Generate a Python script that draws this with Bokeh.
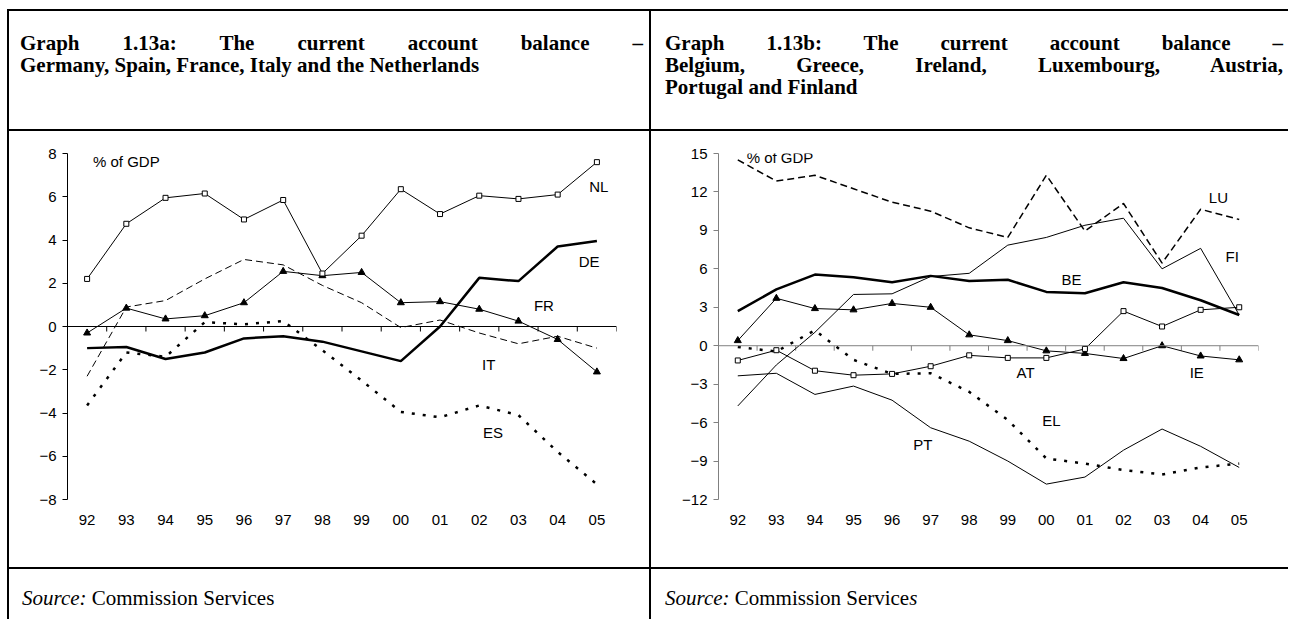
from bokeh.plotting import figure
from bokeh.models import Div, Range1d, FixedTicker, Span
from bokeh.layouts import row, column
from bokeh.embed import file_html
from bokeh.resources import INLINE
from bokeh.core.properties import value
import numpy as np

years = ["92", "93", "94", "95", "96", "97", "98", "99", "00", "01", "02", "03", "04", "05"]

# Graph 1.13a
NL = [2.2, 4.75, 5.95, 6.15, 4.95, 5.85, 2.45, 4.2, 6.35, 5.2, 6.05, 5.9, 6.1, 7.6]
DE = [-1.0, -0.95, -1.5, -1.2, -0.55, -0.45, -0.7, -1.15, -1.6, 0.0, 2.25, 2.1, 3.7, 3.95]
FR = [-0.3, 0.85, 0.35, 0.5, 1.1, 2.55, 2.35, 2.5, 1.1, 1.15, 0.8, 0.25, -0.6, -2.1]
IT = [-2.3, 0.9, 1.2, 2.2, 3.1, 2.85, 1.9, 1.1, -0.05, 0.3, -0.3, -0.8, -0.45, -1.0]
ES = [-3.65, -1.2, -1.4, 0.2, 0.1, 0.25, -1.1, -2.5, -3.95, -4.2, -3.65, -4.1, -5.8, -7.3]

# Graph 1.13b
LU = [14.5, 12.85, 13.3, 12.25, 11.2, 10.5, 9.2, 8.45, 13.3, 8.95, 11.1, 6.45, 10.65, 9.85]
BE = [2.7, 4.4, 5.55, 5.35, 4.95, 5.45, 5.05, 5.15, 4.2, 4.1, 4.95, 4.5, 3.55, 2.4]
FI = [-4.7, -1.5, 1.05, 4.0, 4.05, 5.4, 5.65, 7.85, 8.45, 9.4, 9.95, 6.0, 7.6, 2.4]
IE = [0.4, 3.7, 2.9, 2.8, 3.3, 3.0, 0.85, 0.4, -0.4, -0.6, -1.0, 0.0, -0.8, -1.1]
AT = [-1.15, -0.35, -1.95, -2.3, -2.2, -1.6, -0.75, -0.95, -0.95, -0.25, 2.7, 1.5, 2.8, 3.0]
EL = [-0.1, -0.45, 1.2, -1.1, -2.2, -2.15, -3.6, -5.8, -8.8, -9.2, -9.7, -10.05, -9.5, -9.2]
PT = [-2.35, -2.15, -3.8, -3.15, -4.25, -6.4, -7.45, -9.0, -10.8, -10.25, -8.15, -6.5, -7.85, -9.5]

unit_label = "% of GDP"
left_names = ["NL", "DE", "FR", "IT", "ES"]
right_names = ["LU", "FI", "BE", "AT", "IE", "EL", "PT"]

FONT = value("Liberation Sans")
LBL = "15px"
xs = list(range(len(years)))


def make_fig(width, ylo, yhi, ystep, mb_left, mb_right, axis_color):
    frame_h = 346
    p = figure(width=width, height=436, output_backend="svg", toolbar_location=None,
               x_range=Range1d(-0.5, len(years) - 0.5), y_range=Range1d(ylo, yhi),
               min_border_left=mb_left, min_border_right=mb_right,
               min_border_top=22, min_border_bottom=68,
               outline_line_color=None, background_fill_color="white",
               border_fill_color="white", margin=0)
    p.grid.visible = False
    # x axis: labels only (centred on categories)
    xa = p.xaxis[0]
    xa.ticker = FixedTicker(ticks=xs)
    xa.major_label_overrides = {i: y for i, y in enumerate(years)}
    xa.axis_line_color = None
    xa.major_tick_line_color = None
    xa.major_tick_out = 0
    xa.major_tick_in = 0
    xa.minor_tick_line_color = None
    xa.major_label_standoff = 15
    xa.major_label_text_font = "Liberation Sans"
    xa.major_label_text_font_size = LBL
    xa.major_label_text_color = "black"
    # y axis
    ya = p.yaxis[0]
    ya.ticker = FixedTicker(ticks=list(np.arange(ylo, yhi + ystep, ystep)))
    ya.axis_line_color = axis_color
    ya.major_tick_line_color = axis_color
    ya.major_tick_out = 5
    ya.major_tick_in = 0
    ya.minor_tick_line_color = None
    ya.major_label_standoff = 6
    ya.major_label_text_font = "Liberation Sans"
    ya.major_label_text_font_size = LBL
    ya.major_label_text_color = "black"
    # zero line with ticks at category boundaries
    p.add_layout(Span(location=0, dimension="width", line_color=axis_color, line_width=1))
    tick_len = 5 * (yhi - ylo) / frame_h
    bounds = np.arange(len(years)) + 0.5
    p.segment(x0=bounds, y0=0, x1=bounds, y1=-tick_len, line_color=axis_color, line_width=1)
    return p


def series_label(p, x, y, t, align="center"):
    p.text(x=[x], y=[y], text=[t], text_font=FONT, text_font_size=LBL,
           text_align=align, text_baseline="middle", text_color="black")


# ---- left chart
pa = make_fig(640, -8, 8, 2, 58, 33, "black")
pa.line(xs, IT, line_color="black", line_width=1, line_dash="7 4")
pa.line(xs, ES, line_color="black", line_width=2.5, line_dash="3 8")
pa.line(xs, DE, line_color="black", line_width=2.5)
pa.line(xs, FR, line_color="black", line_width=1)
pa.scatter(xs, FR, marker="triangle", size=7, fill_color="black", line_color="black")
pa.line(xs, NL, line_color="black", line_width=1)
pa.scatter(xs, NL, marker="square", size=5, fill_color="white", line_color="black", line_width=1)
series_label(pa, 0.15, 7.65, unit_label, "left")
left_pos = [(13.05, 6.48), (12.8, 3.0), (11.65, 0.97), (10.24, -1.76), (10.35, -4.9)]
for nm, (lx, ly) in zip(left_names, left_pos):
    series_label(pa, lx, ly, nm)

# ---- right chart
pb = make_fig(637, -12, 15, 3, 67, 30, "#808080")
pb.line(xs, LU, line_color="black", line_width=1.5, line_dash="7 4")
pb.line(xs, EL, line_color="black", line_width=2.5, line_dash="3 8")
pb.line(xs, PT, line_color="black", line_width=1)
pb.line(xs, FI, line_color="black", line_width=1)
pb.line(xs, BE, line_color="black", line_width=2.5)
pb.line(xs, IE, line_color="black", line_width=1)
pb.scatter(xs, IE, marker="triangle", size=7, fill_color="black", line_color="black")
pb.line(xs, AT, line_color="black", line_width=1)
pb.scatter(xs, AT, marker="square", size=5, fill_color="white", line_color="black", line_width=1)
series_label(pb, 0.23, 14.7, unit_label, "left")
right_pos = [(12.46, 11.6), (12.82, 7.0), (8.65, 5.2), (7.46, -2.1), (11.9, -2.1), (8.13, -5.85), (4.8, -7.7)]
for nm, (lx, ly) in zip(right_names, right_pos):
    series_label(pb, lx, ly, nm)

# ---- table cells
BLACK = {"background-color": "black"}


def hline(w):
    return Div(text="", width=w, height=2, margin=0, styles=BLACK)


def vline(h):
    return Div(text="", width=2, height=h, margin=0, styles=BLACK)


TSTYLE = ("font-family:'Liberation Serif';font-weight:bold;font-size:21px;"
          "line-height:22px;color:black;")
JUST = "text-align:justify;text-align-last:justify;"

title_a = Div(width=640, height=118, margin=0, text=(
    f"<div style=\"{TSTYLE}margin:21px 0 0 11px;width:623px;\">"
    f"<div style=\"{JUST}\">Graph 1.13a: The current account balance &ndash;</div>"
    "<div>Germany, Spain, France, Italy and the Netherlands</div></div>"))
title_b = Div(width=637, height=118, margin=0, text=(
    f"<div style=\"{TSTYLE}margin:21px 0 0 14px;width:618px;\">"
    f"<div style=\"{JUST}\">Graph 1.13b: The current account balance &ndash;</div>"
    f"<div style=\"{JUST}\">Belgium, Greece, Ireland, Luxembourg, Austria,</div>"
    "<div>Portugal and Finland</div></div>"))

SSTYLE = "font-family:'Liberation Serif';font-size:21px;line-height:22px;color:black;"
src_a = Div(width=640, height=50, margin=0, text=(
    f"<div style=\"{SSTYLE}margin:18px 0 0 13px;\"><i>Source:</i> Commission Services</div>"))
src_b = Div(width=637, height=50, margin=0, text=(
    f"<div style=\"{SSTYLE}margin:18px 0 0 14px;\"><i>Source:</i> Commission Service<i>s</i></div>"))

H = 2 + 118 + 2 + 436 + 2 + 50
col_a = column(hline(640), title_a, hline(640), pa, hline(640), src_a, spacing=0, margin=0)
col_b = column(hline(637), title_b, hline(637), pb, hline(637), src_b, spacing=0, margin=0)
layout = row(vline(H), col_a, vline(H), col_b, spacing=0, margin=(9, 0, 0, 7))

open("out.html", "w").write(file_html(layout, INLINE))
